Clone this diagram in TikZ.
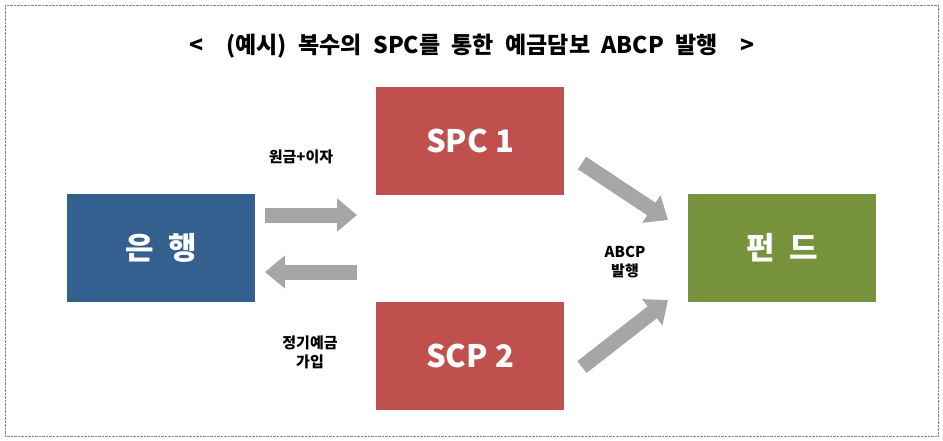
\documentclass[tikz,border=0pt]{standalone}
\usepackage{fontspec}
\setmainfont{Noto Sans CJK KR}
\usetikzlibrary{arrows.meta}
\definecolor{bl}{HTML}{34608F}
\definecolor{rd}{HTML}{C0504D}
\definecolor{gr}{HTML}{77933C}
\definecolor{ar}{HTML}{A6A6A6}
\begin{document}
\begin{tikzpicture}[x=1pt,y=-1pt,
 box/.style={draw=none,minimum width=188pt,minimum height=108pt,inner sep=0pt,text=white,font=\bfseries\fontsize{31}{31}\selectfont},
 blk/.style={draw=ar,line width=15pt,-{Triangle[width=32pt,length=20pt]}},
 lbl/.style={font=\bfseries\fontsize{15}{19}\selectfont,align=center}]
\useasboundingbox (0,0) rectangle (943,440);
\draw[gray,densely dotted] (5,5) rectangle (938,436);
\node[font=\bfseries\fontsize{23}{23}\selectfont] (t) at (472,46) {<\quad (예시)\enspace 복수의\enspace SPC를\enspace 통한\enspace 예금담보\enspace ABCP\enspace 발행\quad >};
\node[box,fill=bl] (bank) at (161,248) {은 \ 행};
\node[box,fill=rd] (s1) at (470,141) {SPC 1};
\node[box,fill=rd] (s2) at (470,356) {SCP 2};
\node[box,fill=gr] (fund) at (782,248) {펀 \ 드};
\coordinate (a1) at (265,215); \coordinate (b1) at (357,215);
\coordinate (a2) at (357,272); \coordinate (b2) at (265,272);
\coordinate (a3) at (582,163); \coordinate (b3) at (668,220);
\coordinate (a4) at (582,367); \coordinate (b4) at (668,300);
\draw[blk] (a1) -- (b1);
\draw[blk] (a2) -- (b2);
\draw[blk] (a3) -- (b3);
\draw[blk] (a4) -- (b4);
\node[lbl] (l1) at (301,157) {원금+이자};
\node[lbl] (l2) at (310,352) {정기예금\\가입};
\node[lbl] (l3) at (625,262) {ABCP\\발행};
\end{tikzpicture}
\end{document}
